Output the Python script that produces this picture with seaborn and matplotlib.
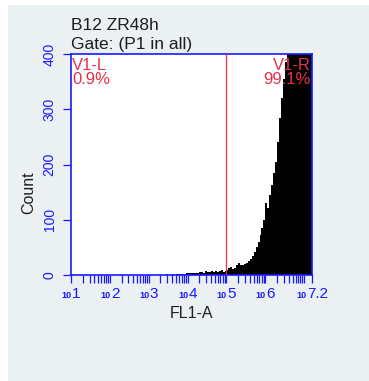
import numpy as np
import pandas as pd
import seaborn as sns
import matplotlib
matplotlib.use("Agg")
import matplotlib.pyplot as plt
from matplotlib.patches import Rectangle
from matplotlib.offsetbox import TextArea, HPacker, AnnotationBbox

# ---------------- data ----------------
title_lines = ["B12 ZR48h", "Gate: (P1 in all)"]
x_label = "FL1-A"
y_label = "Count"
gate_position_log = 5.0
gate_left_label = "V1-L\n0.9%"
gate_right_label = "V1-R\n99.1%"

# histogram channels: log10(FL1-A) bins, width 0.05 decade, starting at 10^3
bin_start_log = 3.0
bin_width_log = 0.05
counts = [
    0, 0, 0, 0, 0, 0, 0, 0,
    0, 1, 0, 0, 1, 0, 1, 1, 2, 2, 1, 3,
    4, 4, 4, 4, 4, 4, 5, 6, 4, 7, 6, 5, 7, 6, 8, 6, 7, 9, 6, 8,
    9, 12, 15, 10, 13, 19, 21, 18, 19, 20, 22, 26, 29, 34, 42, 50, 60, 72, 85, 100,
    130, 122, 145, 162, 185, 205, 240, 285, 320, 355, 385, 410, 440,
    460, 480, 500, 520, 530, 540, 545, 540, 530, 520, 500,
]
x_range_log = (1.0, 7.2)
x_major_ticks = [1, 2, 3, 4, 5, 6, 7.2]
x_major_labels = ["1", "2", "3", "4", "5", "6", "7.2"]
y_ticks = [0, 100, 200, 300, 400]
y_range = (0, 400)

# ---------------- styling ----------------
sns.set_style("white")
plt.rcParams["font.family"] = ["Liberation Sans", "DejaVu Sans"]

BLUE = "#1a1aff"
RED = "#e8304c"
PANEL = "#ebf0f3"
TXT = "#1e1e1e"

W, H = 369, 381
fig = plt.figure(figsize=(W / 100, H / 100), dpi=100, facecolor="white")
fig.patches.append(Rectangle((8 / W, 0), 1 - 8 / W, 1 - 5 / H, transform=fig.transFigure,
                             facecolor=PANEL, edgecolor="none", zorder=-10))

L, R, T, B = 71, 312, 54, 275
ax = fig.add_axes([L / W, 1 - B / H, (R - L) / W, (B - T) / H])
ax.set_facecolor("white")

n = len(counts)
centers = bin_start_log + bin_width_log * (np.arange(n) + 0.5)
df = pd.DataFrame({"fl1_log": centers, "count": counts})
sns.histplot(data=df, x="fl1_log", weights="count", binwidth=bin_width_log,
             binrange=(bin_start_log, bin_start_log + bin_width_log * n),
             element="step", fill=True, color="black", alpha=1, linewidth=0, ax=ax, zorder=2)

ax.axvline(gate_position_log, color=RED, lw=0.9, zorder=3)

ax.set_xlim(*x_range_log)
ax.set_ylim(*y_range)

# x ticks
minor = []
for d in range(1, 7):
    for k in range(2, 10):
        minor.append(d + np.log10(k))
minor.append(7.0)
ax.set_xticks(x_major_ticks)
ax.set_xticks(minor, minor=True)
ax.set_xticklabels([""] * len(x_major_ticks))
ax.tick_params(axis="x", which="both", direction="out", length=5.4, width=0.9,
               color=BLUE, pad=2.5, bottom=True)

# "10" small + exponent large, centred under each major tick
for xt, lab in zip(x_major_ticks, x_major_labels):
    base = TextArea("10", textprops=dict(fontsize=6.5, color=BLUE, fontweight="bold"))
    expo = TextArea(lab, textprops=dict(fontsize=11, color=BLUE))
    pack = HPacker(children=[base, expo], align="baseline", pad=0, sep=0.5)
    ab = AnnotationBbox(pack, (xt, 0), xycoords=ax.get_xaxis_transform(),
                        xybox=(0, -8.5), boxcoords="offset points",
                        box_alignment=(0.5, 1.0), frameon=False, annotation_clip=False)
    ax.add_artist(ab)

# y ticks
ax.set_yticks(y_ticks)
ax.set_yticklabels([str(v) for v in y_ticks], rotation=90, va="center",
                   fontsize=10, color=BLUE)
ax.tick_params(axis="y", which="major", direction="out", length=5.8, width=0.9,
               color=BLUE, pad=4.5, left=True)

for s in ax.spines.values():
    s.set_color(BLUE)
    s.set_linewidth(1.2)
    s.set_visible(True)

ax.set_xlabel("")
ax.set_ylabel("")
fig.text((L + R) / 2 / W, 1 - 313 / H, x_label, ha="center", va="center",
         fontsize=11.5, color=TXT)
fig.text(29 / W, 1 - 193 / H, y_label, ha="center", va="center", rotation=90,
         fontsize=11.5, color=TXT)

fig.text(71 / W, 1 - 30 / H, title_lines[0], ha="left", va="baseline",
         fontsize=12.5, color=TXT)
fig.text(71 / W, 1 - 49.5 / H, title_lines[1], ha="left", va="baseline",
         fontsize=12.5, color=TXT)

ax.text(0.005, 0.983, gate_left_label, transform=ax.transAxes, ha="left", va="top",
        fontsize=12, color=RED, linespacing=0.95, zorder=5)
ax.text(0.993, 0.983, gate_right_label, transform=ax.transAxes, ha="right", va="top",
        fontsize=12, color=RED, linespacing=0.95, zorder=5)

fig.savefig("out.png", dpi=100, facecolor=fig.get_facecolor())
